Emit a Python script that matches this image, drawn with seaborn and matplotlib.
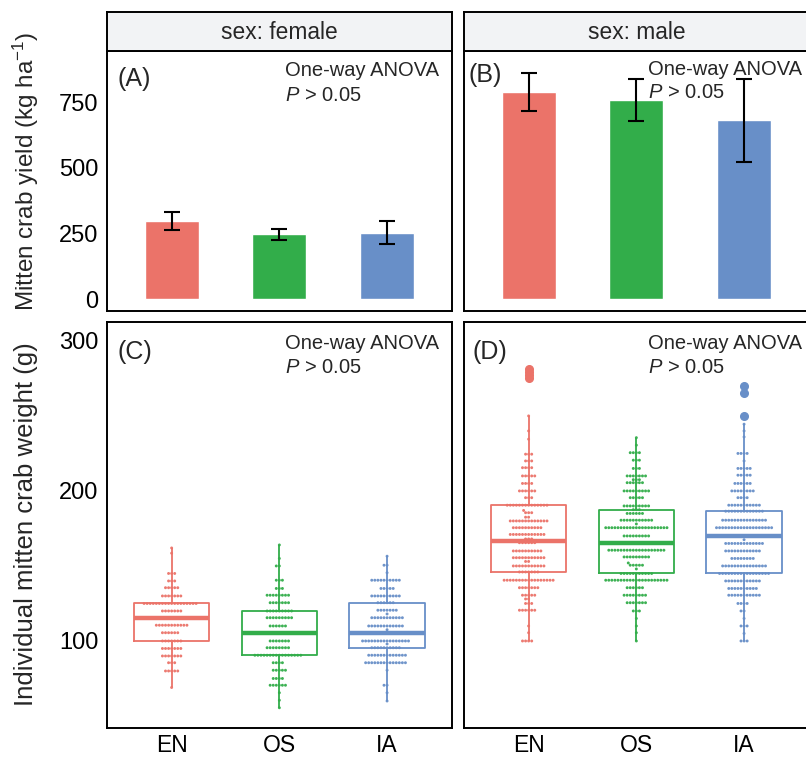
import numpy as np
import pandas as pd
import matplotlib
matplotlib.use("Agg")
import matplotlib.pyplot as plt
import seaborn as sns

sns.set_style("white")
plt.rcParams['font.family'] = ['Liberation Sans', 'DejaVu Sans']
plt.rcParams['mathtext.fontset'] = 'custom'
plt.rcParams['mathtext.rm'] = 'Liberation Sans'
plt.rcParams['mathtext.it'] = 'Liberation Sans:italic'

groups = ["EN", "OS", "IA"]
palette = {"EN": "#EB7369", "OS": "#32AD4A", "IA": "#688FC8"}

# Mitten crab yield (kg/ha): mean and error
yield_female = [298, 248, 253]
yield_female_err = [33, 21, 44]
yield_male = [790, 757, 682]
yield_male_err = [73, 80, 158]

# Individual weights (g), as dot rows: weight value and number of crabs
female_EN_weight = [162, 158.5, 145, 140, 135.5, 130, 125, 120, 115, 110.5, 105.5, 100, 95, 90, 85.5, 80, 69]
female_EN_count = [1, 1, 3, 3, 5, 7, 18, 7, 8, 11, 6, 7, 7, 7, 3, 5, 1]

female_OS_weight = [164, 155, 150, 140.5, 135, 130.5, 125.5, 120, 115.5, 110, 105.5, 100, 95.5, 90.5,
                    85.5, 80.5, 75, 70.5, 65.5, 60.5, 55.5]
female_OS_count = [1, 1, 2, 3, 3, 8, 7, 9, 9, 6, 6, 7, 8, 16, 4, 5, 4, 6, 1, 1, 1]

female_IA_weight = [156.5, 150.5, 145.5, 140.5, 135, 130, 125.5, 120.5, 118, 115.5, 110, 107.5, 105, 100,
                    98, 95.5, 90.5, 85.5, 80.5, 70.5, 65.5, 60]
female_IA_count = [1, 2, 1, 10, 5, 10, 6, 7, 1, 11, 12, 1, 10, 16, 1, 10, 13, 14, 1, 2, 1, 1]

male_EN_weight = [281, 279, 277, 275, 250, 240, 234.5, 224.5, 220, 215.5, 210, 205, 200, 195.5, 190.5,
                  187, 185.5, 182.5, 180, 175.5, 171, 168, 165.5, 160, 155.5, 153, 150, 146, 140.5,
                  135.5, 130.5, 128, 125, 120.5, 110, 105.5, 100]
male_EN_count = [1, 1, 1, 1, 1, 1, 1, 3, 3, 4, 5, 4, 6, 3, 14,
                 1, 3, 2, 13, 10, 12, 3, 6, 10, 11, 2, 11, 7, 17,
                 7, 5, 2, 3, 6, 1, 1, 4]

male_OS_weight = [235.5, 230.5, 225.5, 220.5, 215, 210, 207.5, 205.5, 200, 195.5, 190, 187.5, 185,
                  180.5, 178, 175.5, 170, 165, 160.5, 156, 152, 150.5, 148, 145, 140.5, 135.5, 130.5,
                  125.5, 120, 115, 110, 105.5, 100]
male_OS_count = [1, 1, 4, 3, 3, 7, 3, 6, 9, 5, 9, 3, 6,
                 11, 1, 21, 9, 8, 19, 9, 1, 5, 1, 11, 21, 6, 8,
                 7, 3, 1, 1, 1, 1]

male_IA_weight = [270, 265, 250, 244.5, 240, 236, 225, 220, 215, 210.5, 205, 200, 195.5, 190.5, 186.5,
                  180.5, 175.5, 170, 167.5, 165, 160, 155, 150, 145, 140, 135, 130.5, 125, 120, 115,
                  110, 105, 100]
male_IA_count = [1, 1, 1, 1, 1, 1, 4, 1, 5, 5, 6, 8, 4, 11, 13,
                 15, 19, 17, 1, 13, 12, 8, 15, 17, 12, 10, 11, 4, 2, 1,
                 3, 1, 3]


def weight_frame(rows):
    parts = []
    for g, (w, n) in rows.items():
        parts.append(pd.DataFrame({"group": g, "weight": np.repeat(w, n)}))
    return pd.concat(parts, ignore_index=True)


weights_female = weight_frame({"EN": (female_EN_weight, female_EN_count),
                               "OS": (female_OS_weight, female_OS_count),
                               "IA": (female_IA_weight, female_IA_count)})
weights_male = weight_frame({"EN": (male_EN_weight, male_EN_count),
                             "OS": (male_OS_weight, male_OS_count),
                             "IA": (male_IA_weight, male_IA_count)})

W, H = 806, 759
fig = plt.figure(figsize=(W / 100, H / 100), dpi=100)


def px_axes(x0, y0, x1, y1):
    return fig.add_axes([x0 / W, 1 - y1 / H, (x1 - x0) / W, (y1 - y0) / H])


PW = 344.7
ax_a = px_axes(107, 51, 107 + PW, 310.6)
ax_b = px_axes(464, 51, 464 + PW, 310.6)
ax_c = px_axes(107, 322, 107 + PW, 728)
ax_d = px_axes(464, 322, 464 + PW, 728)

SPINE_LW = 1.4
TICK_FS = 17
ANNOT_FS = 14.5

# facet strips
for x0, label in [(107, "sex: female"), (464, "sex: male")]:
    st = px_axes(x0, 12, x0 + PW, 51)
    st.set_facecolor("#F2F3F5")
    st.set_xticks([])
    st.set_yticks([])
    for s in st.spines.values():
        s.set_color("black")
        s.set_linewidth(SPINE_LW)
    st.text(0.5, 0.47, label, transform=st.transAxes, ha="center", va="center", fontsize=16.4)

# yield bars with error bars
for ax, vals, errs in [(ax_a, yield_female, yield_female_err), (ax_b, yield_male, yield_male_err)]:
    bars = pd.DataFrame({"group": groups, "yield": vals})
    sns.barplot(data=bars, x="group", y="yield", hue="group", order=groups, hue_order=groups,
                palette=palette, width=0.5, errorbar=None, legend=False, ax=ax, saturation=1)
    ax.errorbar(np.arange(len(groups)), vals, yerr=errs, fmt="none", ecolor="black",
                elinewidth=1.5, capsize=5.8, capthick=1.5, zorder=5)
    ax.set_ylim(-43, 945)

# weight boxes with individual dots
for ax, df in [(ax_c, weights_female), (ax_d, weights_male)]:
    sns.boxplot(data=df, x="group", y="weight", hue="group", order=groups, hue_order=groups,
                palette=palette, fill=False, width=0.7, linewidth=1.3, showcaps=False,
                medianprops=dict(linewidth=3.2),
                flierprops=dict(marker="o", markersize=5.5), legend=False, ax=ax, zorder=2)
    for ln in ax.lines:
        if ln.get_marker() == "o":
            ln.set_markerfacecolor(ln.get_markeredgecolor())
    sns.swarmplot(data=df, x="group", y="weight", hue="group", order=groups, hue_order=groups,
                  palette=palette, size=2.1, alpha=0.95, linewidth=0,
                  legend=False, ax=ax, zorder=3)
    ax.set_ylim(42, 312.6)

for ax in [ax_a, ax_b, ax_c, ax_d]:
    ax.set_xlim(-0.6, 2.6)
    ax.set_xlabel("")
    ax.set_ylabel("")
    for s in ax.spines.values():
        s.set_color("black")
        s.set_linewidth(SPINE_LW)
    ax.tick_params(axis="both", which="both", direction="out", length=3.8, width=1.1,
                   color="black", labelsize=TICK_FS, labelcolor="black", pad=2.5)

ax_a.set_yticks([0, 250, 500, 750])
ax_c.set_yticks([100, 200, 300])
for ax in [ax_a, ax_b]:
    ax.tick_params(axis="x", bottom=False, labelbottom=False)
for ax in [ax_b, ax_d]:
    ax.tick_params(axis="y", left=False, labelleft=False)
for ax in [ax_c, ax_d]:
    ax.set_xticks(range(len(groups)))
    ax.set_xticklabels(groups)
    ax.tick_params(axis="x", labelsize=16.5, pad=0.8)


# panel annotations
def annotate(ax, letter, lx, ly, tx, ty1, ty2):
    ax.text(lx, ly, letter, transform=ax.transAxes, fontsize=18, va="baseline", ha="left")
    ax.text(tx, ty1, "One-way ANOVA", transform=ax.transAxes, fontsize=ANNOT_FS,
            va="baseline", ha="left")
    ax.text(tx, ty2, "$P$ > 0.05", transform=ax.transAxes, fontsize=ANNOT_FS,
            va="baseline", ha="left")


annotate(ax_a, "(A)", 0.030, (310.6 - 86) / 259.6, 0.516, (310.6 - 76.5) / 259.6, (310.6 - 101) / 259.6)
annotate(ax_b, "(B)", 0.0145, (310.6 - 81.7) / 259.6, 0.533, (310.6 - 75) / 259.6, (310.6 - 98.3) / 259.6)
annotate(ax_c, "(C)", 0.030, (728 - 359) / 406, 0.516, (728 - 349) / 406, (728 - 373) / 406)
annotate(ax_d, "(D)", 0.0235, (728 - 359) / 406, 0.533, (728 - 349) / 406, (728 - 373) / 406)

fig.text(26 / W, 1 - 171 / H, "Mitten crab yield (kg ha$^{-1}$)", rotation=90,
         ha="center", va="center", fontsize=17.5)
fig.text(26 / W, 1 - 524 / H, "Individual mitten crab weight (g)", rotation=90,
         ha="center", va="center", fontsize=18.5)

fig.savefig("out.png", dpi=100)
